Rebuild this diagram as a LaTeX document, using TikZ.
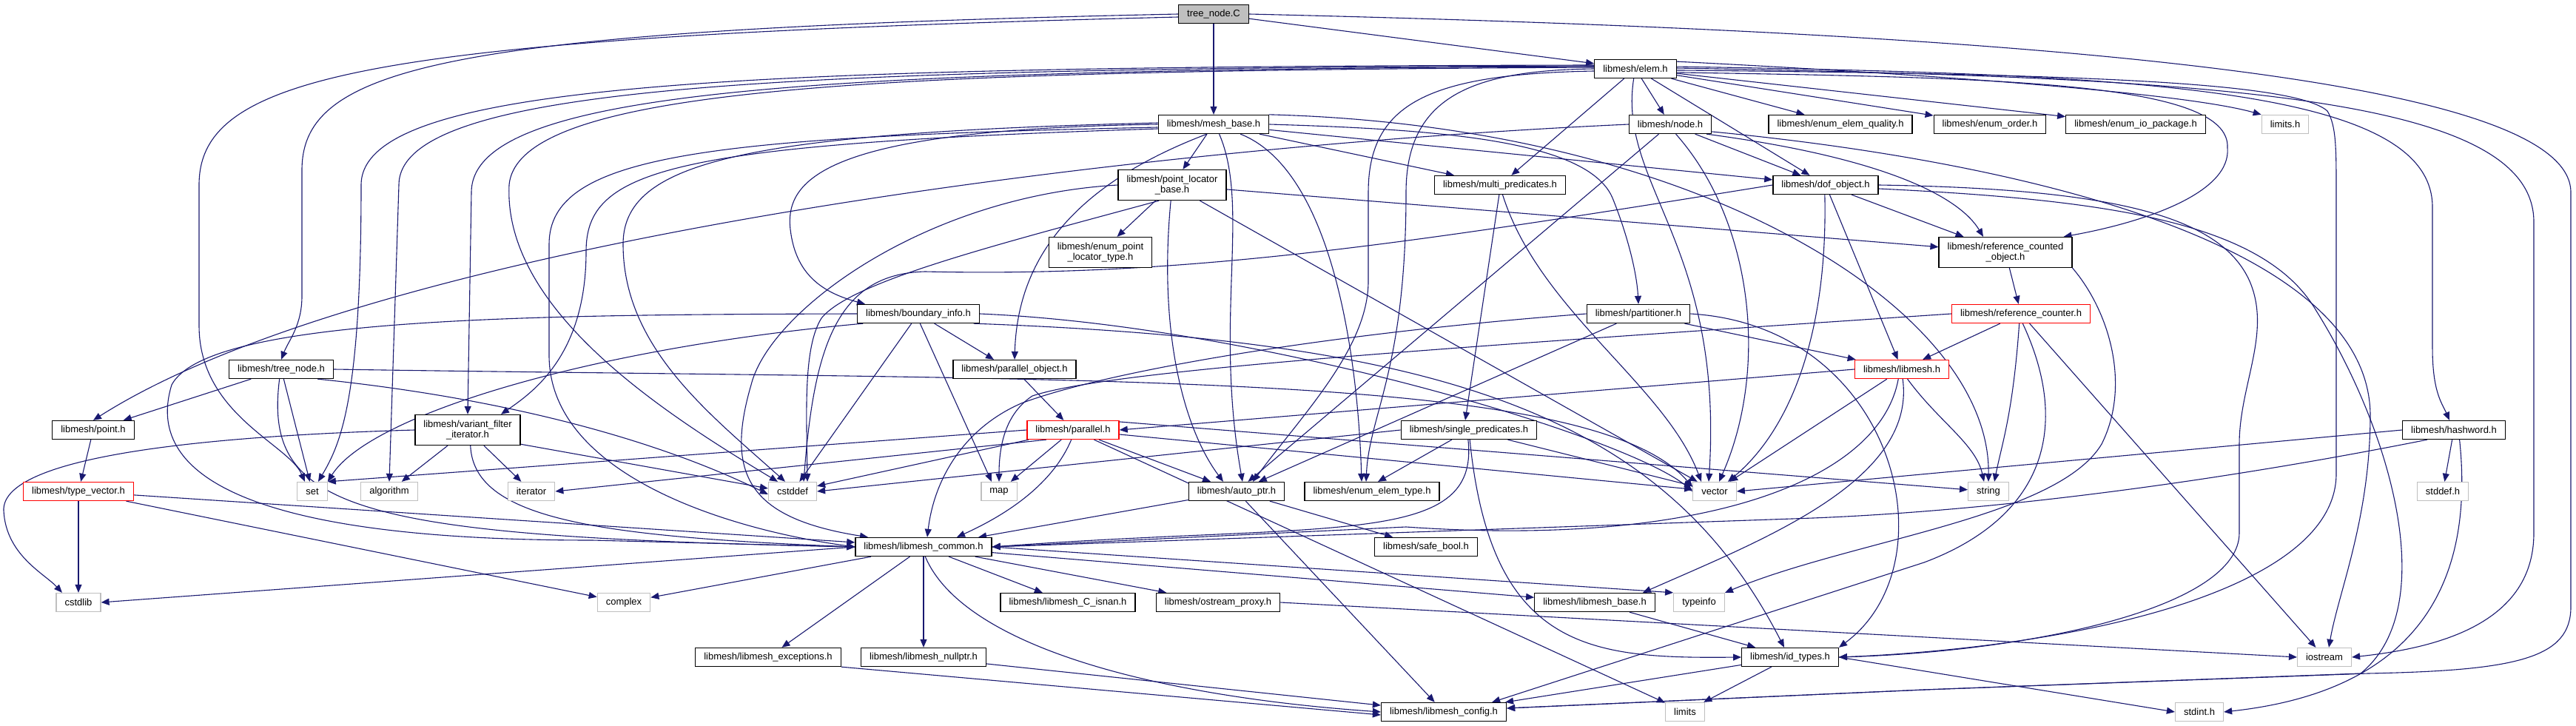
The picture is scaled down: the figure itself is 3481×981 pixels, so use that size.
\documentclass[tikz,border=0pt]{standalone}
\usepackage{fontspec}
\newfontfamily\hdrfont{Liberation Sans}
\usepackage{tikz}
\usetikzlibrary{arrows.meta,backgrounds}
\usepackage{xcolor}
\definecolor{dblue}{HTML}{191970}
\definecolor{sysgray}{HTML}{BFBFBF}
\definecolor{cutred}{HTML}{FF0000}

\begin{document}
\begin{tikzpicture}[x=1pt,y=-1pt,font=\hdrfont\fontsize{13}{14}\selectfont,
  hdr/.style={draw=black,fill=white,line width=1.3pt,inner xsep=11.5pt,inner ysep=2pt,
              minimum height=25pt,align=center},
  twoline/.style={hdr,minimum height=41pt},
  sysbox/.style={hdr,draw=sysgray},
  redbox/.style={hdr,draw=cutred},
  srcbox/.style={hdr,fill=sysgray},
  inc/.style={draw=dblue,line width=1.1pt,-{Triangle[length=11pt,width=9pt]}}]
  \useasboundingbox (0,0) rectangle (3481,981);
  % files, row by row
  \node[srcbox] (tnC) at (1640,19) {tree\_node.C};
  \node[hdr] (el) at (2210,93) {libmesh/elem.h};
  \node[hdr] (mb) at (1640,168) {libmesh/mesh\_base.h};
  \node[hdr] (nd) at (2257,168) {libmesh/node.h};
  \node[hdr] (eq) at (2487,168) {libmesh/enum\_elem\_quality.h};
  \node[hdr] (eo) at (2689,168) {libmesh/enum\_order.h};
  \node[hdr] (eio) at (2886,168) {libmesh/enum\_io\_package.h};
  \node[sysbox] (limh) at (3088,168) {limits.h};
  \node[twoline] (plb) at (1584,250) {libmesh/point\_locator\\\_base.h};
  \node[hdr] (mp) at (2027,250) {libmesh/multi\_predicates.h};
  \node[hdr] (dof) at (2467,250) {libmesh/dof\_object.h};
  \node[twoline] (eplt) at (1487,341) {libmesh/enum\_point\\\_locator\_type.h};
  \node[twoline] (rco) at (2710,341) {libmesh/reference\_counted\\\_object.h};
  \node[hdr] (bi) at (1241,424) {libmesh/boundary\_info.h};
  \node[hdr] (part) at (2214,424) {libmesh/partitioner.h};
  \node[redbox] (rc) at (2731,424) {libmesh/reference\_counter.h};
  \node[hdr] (tnh) at (380,499) {libmesh/tree\_node.h};
  \node[hdr] (po) at (1371,499) {libmesh/parallel\_object.h};
  \node[redbox] (lm) at (2570,499) {libmesh/libmesh.h};
  \node[hdr] (pt) at (126,581) {libmesh/point.h};
  \node[twoline] (vfi) at (632,581) {libmesh/variant\_filter\\\_iterator.h};
  \node[redbox] (par) at (1450,581) {libmesh/parallel.h};
  \node[hdr] (sp) at (1985,581) {libmesh/single\_predicates.h};
  \node[hdr] (hw) at (3316,581) {libmesh/hashword.h};
  \node[redbox] (tv) at (106,664) {libmesh/type\_vector.h};
  \node[sysbox] (set) at (422,664) {set};
  \node[sysbox] (alg) at (526,664) {algorithm};
  \node[sysbox] (itr) at (718,664) {iterator};
  \node[sysbox] (cdef) at (1071,664) {cstddef};
  \node[sysbox] (map) at (1350,664) {map};
  \node[hdr] (ap) at (1671,664) {libmesh/auto\_ptr.h};
  \node[hdr] (eet) at (1854,664) {libmesh/enum\_elem\_type.h};
  \node[sysbox] (vec) at (2317,664) {vector};
  \node[sysbox] (str) at (2687,664) {string};
  \node[sysbox] (sdef) at (3301,664) {stddef.h};
  \node[hdr] (com) at (1248,739) {libmesh/libmesh\_common.h};
  \node[hdr] (sb) at (1927,739) {libmesh/safe\_bool.h};
  \node[sysbox] (cstd) at (106,814) {cstdlib};
  \node[sysbox] (cplx) at (843,814) {complex};
  \node[hdr] (isnan) at (1443,814) {libmesh/libmesh\_C\_isnan.h};
  \node[hdr] (osp) at (1646,814) {libmesh/ostream\_proxy.h};
  \node[hdr] (lbase) at (2155,814) {libmesh/libmesh\_base.h};
  \node[sysbox] (tinfo) at (2296,814) {typeinfo};
  \node[hdr] (exc) at (1038,888) {libmesh/libmesh\_exceptions.h};
  \node[hdr] (nptr) at (1248,888) {libmesh/libmesh\_nullptr.h};
  \node[hdr] (ids) at (2419,888) {libmesh/id\_types.h};
  \node[sysbox] (ios) at (3141,888) {iostream};
  \node[hdr] (cfg) at (1951,962) {libmesh/libmesh\_config.h};
  \node[sysbox] (lim) at (2277,962) {limits};
  \node[sysbox] (sint) at (2972,962) {stdint.h};

  \begin{scope}[on background layer]
  \fill[white] (0,0) rectangle (3481,981);
  % tree_node.C
  \draw[inc] (tnC) -- (el);
  \draw[inc] (tnC) -- (mb);
  \draw[inc] (tnC.west) .. controls (600,40) and (408,90) .. (408,230) -- (408,400) .. controls (408,440) and (390,460) .. (tnh.north);
  \draw[inc] ([yshift=-4pt]tnC.west) .. controls (500,50) and (269,100) .. (269,250) -- (269,440) .. controls (269,560) and (390,600) .. ([xshift=-10pt]set.north);
  \draw[inc] (tnC.east) .. controls (2800,45) and (3474,110) .. (3474,260) -- (3474,820) .. controls (3474,890) and (3400,906) .. (3200,910) -- (2600,932) -- ([yshift=5pt]cfg.east);
  % elem.h
  \draw[inc] (el) -- (nd);
  \draw[inc] (el) -- (eq);
  \draw[inc] (el) -- (eo);
  \draw[inc] (el) -- (eio);
  \draw[inc] (el.10) .. controls (2600,100) and (2950,125) .. (limh.north west);
  \draw[inc] (el) -- (mp);
  \draw[inc] (el) -- (dof);
  \draw[inc] (el.-5) .. controls (2700,105) and (3015,110) .. (3010,200) .. controls (3015,260) and (2900,300) .. ([xshift=-12pt]rco.north east);
  \draw[inc] (el.3) .. controls (2900,100) and (3287,120) .. (3287,280) -- (3287,470) .. controls (3287,530) and (3300,545) .. ([xshift=-6pt]hw.north);
  \draw[inc] (el.1) .. controls (3000,105) and (3424,130) .. (3424,300) -- (3424,720) .. controls (3424,840) and (3300,875) .. (ios.east);
  \draw[inc] (el.-2) .. controls (2800,100) and (3100,110) .. (3145,150) .. controls (3157,170) and (3157,200) .. (3157,260) -- (3157,640) .. controls (3157,800) and (2800,875) .. (ids.east);
  \draw[inc] (el.-100) .. controls (2185,250) and (2330,330) .. ([xshift=-8pt]vec.north);
  \draw[inc] (el.west) .. controls (1990,95) and (1900,130) .. (1900,260) .. controls (1900,500) and (1850,560) .. ([xshift=-8pt]eet.north);
  \draw[inc] ([yshift=-3pt]el.west) .. controls (1930,100) and (1849,140) .. (1849,260) -- (1849,380) .. controls (1849,470) and (1760,560) .. ([xshift=22pt]ap.north);
  \draw[inc] ([yshift=2pt]el.west) .. controls (1200,96) and (700,115) .. (688,250) .. controls (680,420) and (900,560) .. ([xshift=-20pt]cdef.north);
  \draw[inc] ([yshift=5pt]el.west) .. controls (1000,90) and (488,110) .. (488,250) .. controls (488,540) and (460,600) .. ([xshift=8pt]set.north);
  \draw[inc] ([yshift=4pt]el.west) .. controls (1050,92) and (539,115) .. (539,250) -- (alg.north);
  \draw[inc] ([yshift=3pt]el.west) .. controls (1100,94) and (637,120) .. (637,260) -- (vfi.north);
  % mesh_base.h
  \draw[inc] (mb) -- (plb);
  \draw[inc] (mb.-125) .. controls (1450,250) and (1375,350) .. (po.north);
  \draw[inc] (mb.west) .. controls (1120,175) and (1060,240) .. (1068,310) .. controls (1075,370) and (1110,395) .. ([xshift=-72pt]bi.north);
  \draw[inc] (mb) -- (mp);
  \draw[inc] (mb) -- (dof);
  \draw[inc] (mb.east) .. controls (1950,175) and (2150,190) .. (2180,270) .. controls (2200,320) and (2212,370) .. (part.north);
  \draw[inc] (mb.-60) .. controls (1690,280) and (1640,430) .. ([xshift=8pt]ap.north);
  \draw[inc] (mb.-20) .. controls (1800,230) and (1835,480) .. ([xshift=-14pt]eet.north);
  \draw[inc] (mb.10) .. controls (2300,170) and (2690,420) .. (str.north);
  \draw[inc] ([yshift=2pt]mb.west) .. controls (1000,180) and (842,220) .. (842,330) .. controls (842,470) and (960,560) .. ([xshift=-10pt]cdef.north);
  \draw[inc] ([yshift=-4pt]mb.west) .. controls (950,185) and (742,210) .. (742,330) -- (742,480) .. controls (742,640) and (980,715) .. (com.west);
  \draw[inc] ([yshift=-6pt]mb.west) .. controls (900,195) and (792,230) .. (792,340) .. controls (792,480) and (720,530) .. ([xshift=45pt]vfi.north);
  % node.h
  \draw[inc] (nd.west) .. controls (1500,200) and (500,330) .. (pt.north);
  \draw[inc] (nd) -- (dof);
  \draw[inc] (nd.-15) .. controls (2560,215) and (2650,270) .. ([xshift=-30pt]rco.north);
  \draw[inc] (nd) -- (ap);
  \draw[inc] (nd.-60) .. controls (2370,300) and (2390,500) .. ([xshift=6pt]vec.north);
  \draw[inc] (nd.-10) .. controls (2700,215) and (3200,320) .. (3203,560) .. controls (3203,700) and (3160,800) .. ([xshift=6pt]ios.north);
  % dof_object.h
  \draw[inc] (dof) -- (rco);
  \draw[inc] (dof) -- (lm);
  \draw[inc] (dof.-95) .. controls (2470,450) and (2420,580) .. ([xshift=18pt]vec.north);
  \draw[inc] (dof.west) .. controls (1900,330) and (1600,375) .. (1250,367) .. controls (1130,370) and (1100,470) .. ([xshift=15pt]cdef.north);
  \draw[inc] (dof.east) .. controls (2850,255) and (3000,290) .. (3040,380) .. controls (3070,450) and (3026,520) .. (3026,600) -- (3026,720) .. controls (3026,820) and (2750,880) .. (ids.east);
  \draw[inc] ([yshift=-5pt]dof.east) .. controls (2850,270) and (3060,300) .. (3130,420) .. controls (3230,580) and (3300,820) .. (3190,910) -- (2600,932) -- ([yshift=5pt]cfg.east);
  % point_locator_base.h
  \draw[inc] (plb) -- (eplt);
  \draw[inc] (plb) -- (rco);
  \draw[inc] (plb) -- (vec);
  \draw[inc] (plb.-95) .. controls (1565,450) and (1600,580) .. ([xshift=-18pt]ap.north);
  \draw[inc] (plb.west) .. controls (1250,265) and (1040,420) .. (1015,520) .. controls (980,640) and (1010,700) .. ([xshift=-75pt]com.north);
  \draw[inc] (plb.-130) .. controls (1350,330) and (1150,380) .. (1110,430) .. controls (1085,470) and (1090,560) .. ([xshift=20pt]cdef.north);
  % boundary_info.h
  \draw[inc] (bi) -- ([xshift=-28pt]po.north);
  \draw[inc] (bi.-80) -- ([xshift=-10pt]map.north);
  \draw[inc] (bi) -- (cdef);
  \draw[inc] (bi.190) .. controls (800,470) and (500,560) .. (set.north east);
  \draw[inc] (bi.west) .. controls (700,425) and (280,430) .. (232,520) .. controls (195,640) and (330,730) .. (800,730) -- (com.west);
  \draw[inc] (bi.east) .. controls (1700,440) and (2200,590) .. (vec.west);
  \draw[inc] (bi.-10) .. controls (1950,460) and (2250,560) .. ([xshift=-8pt]ids.north);
  % partitioner.h
  \draw[inc] (part) -- (lm);
  \draw[inc] (part) -- (ap);
  \draw[inc] (part.west) .. controls (1800,450) and (1500,500) .. (1380,545) .. controls (1300,580) and (1262,650) .. ([xshift=5pt]com.north);
  \draw[inc] (part.east) .. controls (2560,440) and (2640,760) .. (ids.north east);
  % parallel
  \draw[inc] (po) -- (par);
  \draw[inc] (par.west) -- (set.north east);
  \draw[inc] (par.200) -- (itr.east);
  \draw[inc] (par) -- (cdef);
  \draw[inc] (par) -- (map);
  \draw[inc] (par) -- (ap);
  \draw[inc] (par.-100) .. controls (1420,660) and (1350,700) .. ([xshift=45pt]com.north);
  \draw[inc] (par) -- (vec);
  \draw[inc] (par.10) -- (str);
  \draw[inc] (par) -- (lim);
  % predicates
  \draw[inc] (sp.west) -- (cdef.east);
  \draw[inc] (sp) -- ([xshift=8pt]eet.north);
  \draw[inc] (sp) -- (vec);
  \draw[inc] (sp.-95) .. controls (2000,740) and (1800,705) .. (com.east);
  \draw[inc] (sp.-85) .. controls (2015,880) and (2150,890) .. (ids.west);
  \draw[inc] (mp.-95) -- ([xshift=-5pt]sp.north);
  \draw[inc] (mp.-75) .. controls (2080,420) and (2250,520) .. ([xshift=-18pt]vec.north);
  % variant_filter_iterator.h
  \draw[inc] (vfi.west) .. controls (250,590) and (2,620) .. (5,690) .. controls (8,750) and (60,775) .. ([xshift=-22pt]cstd.north);
  \draw[inc] (vfi) -- (alg);
  \draw[inc] (vfi) -- (itr);
  \draw[inc] (vfi.-15) -- ([yshift=4pt]cdef.west);
  \draw[inc] (vfi.-80) .. controls (640,700) and (800,725) .. (com.west);
  % tree_node.h, point.h, type_vector.h
  \draw[inc] (tnh) -- (pt);
  \draw[inc] (tnh) -- (set);
  \draw[inc] (tnh.-100) .. controls (355,690) and (480,725) .. (com.west);
  \draw[inc] (tnh.-15) .. controls (700,540) and (900,600) .. ([yshift=-4pt]cdef.west);
  \draw[inc] (tnh.east) .. controls (1500,515) and (2150,500) .. ([yshift=6pt]vec.west);
  \draw[inc] (pt) -- (tv);
  \draw[inc] (tv) -- (cstd);
  \draw[inc] (tv) -- (cplx);
  \draw[inc] (tv) -- (com);
  % auto_ptr.h
  \draw[inc] (ap) -- (com);
  \draw[inc] (ap) -- (sb);
  \draw[inc] (ap) -- (cfg);
  % libmesh_common.h
  \draw[inc] (com.west) -- (cstd.east);
  \draw[inc] (com) -- (cplx);
  \draw[inc] (com) -- (exc);
  \draw[inc] (com) -- (nptr);
  \draw[inc] (com) -- (isnan);
  \draw[inc] (com) -- (osp);
  \draw[inc] (com) -- (lbase);
  \draw[inc] (com.east) -- (tinfo.north west);
  \draw[inc] (com.-80) .. controls (1300,870) and (1550,940) .. (cfg.west);
  \draw[inc] (exc.south east) -- ([yshift=-4pt]cfg.west);
  \draw[inc] (nptr) -- (cfg);
  \draw[inc] (osp.east) -- (ios.west);
  \draw[inc] (lbase) -- (ids);
  \draw[inc] (ids) -- (cfg);
  \draw[inc] (ids) -- (lim);
  \draw[inc] (ids.east) -- (sint.west);
  % reference counting
  \draw[inc] (rco) -- (rc);
  \draw[inc] (rco.south east) .. controls (2850,420) and (2880,520) .. (2840,600) .. controls (2780,700) and (2500,730) .. (tinfo.north east);
  \draw[inc] (rc) -- (lm);
  \draw[inc] (rc.-100) .. controls (2720,560) and (2705,600) .. ([xshift=8pt]str.north);
  \draw[inc] (rc.west) .. controls (1950,470) and (1500,500) .. (1395,535) .. controls (1365,555) and (1350,590) .. (map.north);
  \draw[inc] (rc) -- (ios);
  \draw[inc] (rc.-80) .. controls (2800,580) and (2760,700) .. (2600,760) -- ([xshift=-20pt]cfg.north east);
  % libmesh.h
  \draw[inc] (lm.west) -- (par.east);
  \draw[inc] (lm) -- (vec);
  \draw[inc] (lm.-60) .. controls (2620,570) and (2670,600) .. ([xshift=-6pt]str.north);
  \draw[inc] (lm.-110) .. controls (2540,650) and (2300,740) .. (1900,712) -- (com.east);
  \draw[inc] (lm.-85) .. controls (2590,650) and (2380,730) .. ([xshift=65pt]lbase.north);
  % hashword.h
  \draw[inc] (hw) -- (sdef);
  \draw[inc] (hw.-60) .. controls (3340,750) and (3300,930) .. (sint.east);
  \draw[inc] (hw.west) -- (vec.east);
  \draw[inc] (hw.200) .. controls (3000,650) and (2700,690) .. (2450,700) -- (com.east);
  \end{scope}
\end{tikzpicture}
\end{document}
